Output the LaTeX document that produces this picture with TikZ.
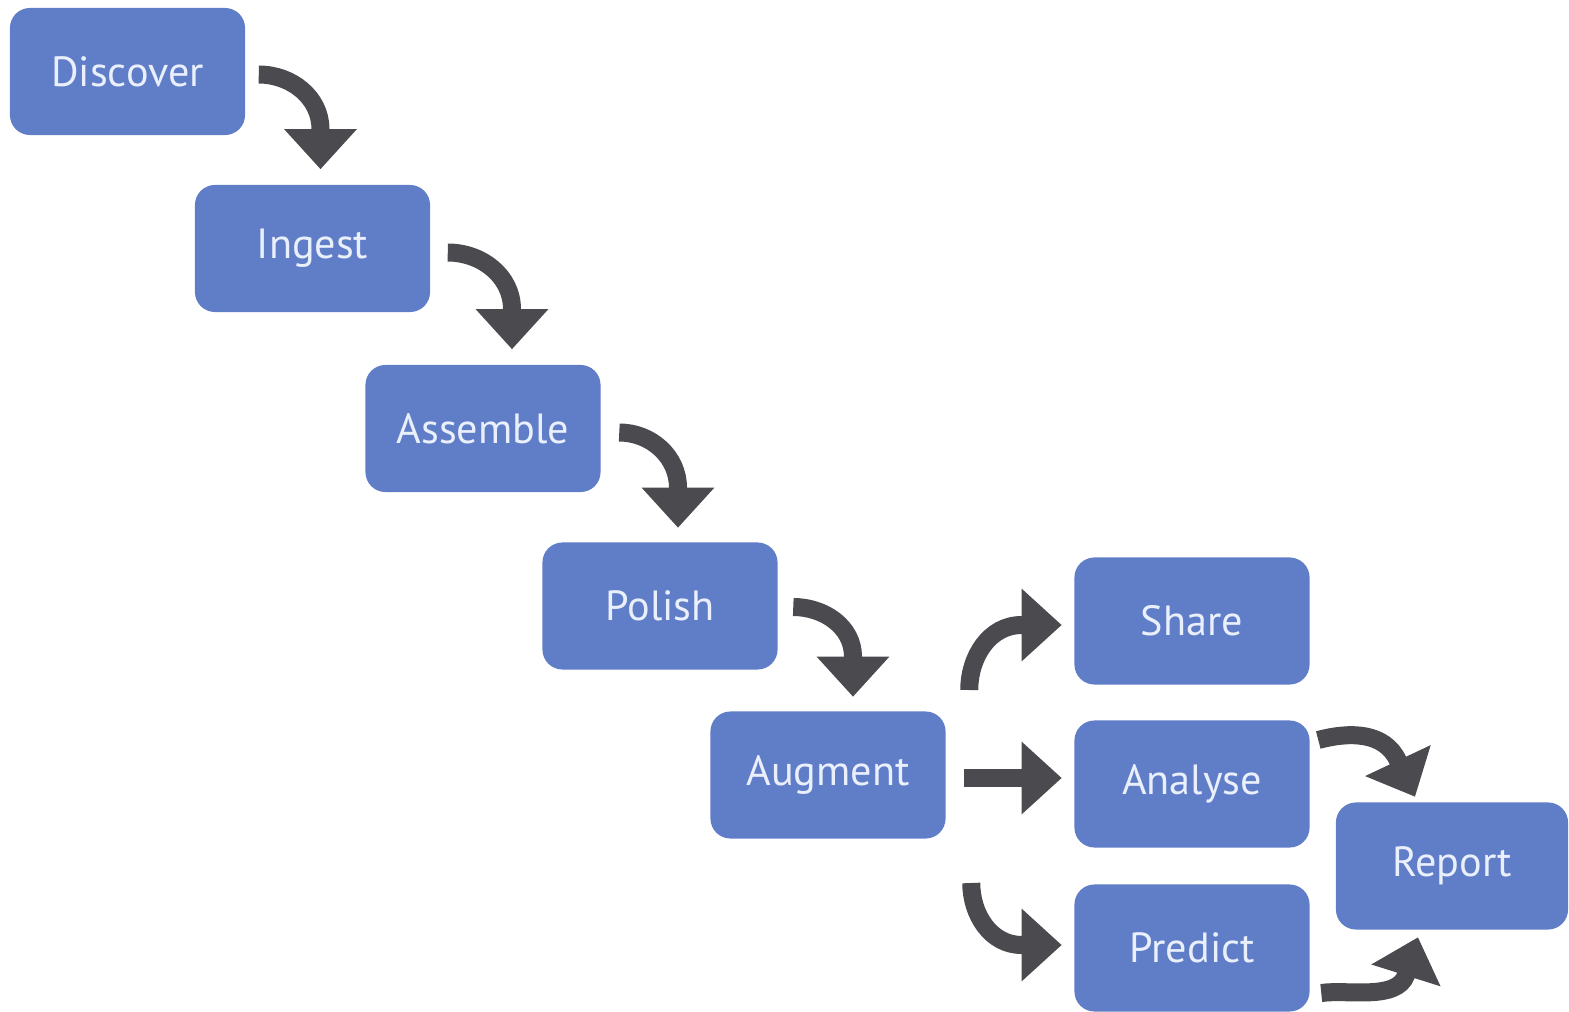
\documentclass[tikz,border=0pt]{standalone}
\usepackage{fontspec}
\setmainfont{PT Sans}
\usetikzlibrary{arrows.meta,calc}
\definecolor{boxblue}{RGB}{96,125,200}
\definecolor{boxtext}{RGB}{234,239,252}
\definecolor{arrowgray}{RGB}{74,74,79}
\begin{document}
\begin{tikzpicture}[x=0.01cm,y=0.01cm,
  stage/.style={rectangle, rounded corners=0.2cm, fill=boxblue, text=boxtext,
    minimum width=2.35cm, minimum height=1.27cm, inner sep=0pt,
    font=\fontsize{12}{15}\selectfont},
  flow/.style={draw=arrowgray, line width=0.18cm,
    -{Triangle[width=0.70cm,length=0.40cm]}}]
\useasboundingbox (0,0) rectangle (1569,-1012);
\node[stage] (discover) at (127.5,-71.5) {Discover};
\node[stage] (ingest) at (312.5,-248.5) {Ingest};
\node[stage] (assemble) at (483,-428.5) {Assemble};
\node[stage] (polish) at (660,-606) {Polish};
\node[stage] (augment) at (828,-775) {Augment};
\node[stage] (share) at (1192,-621) {Share};
\node[stage] (analyse) at (1192,-784) {Analyse};
\node[stage] (predict) at (1192,-948) {Predict};
\node[stage, minimum width=2.32cm] (report) at (1452,-866) {Report};

\draw[flow] ($(discover.east)+(13,-3)$) to[out=0,in=90] ($(ingest.north)+(8,55)$) -- ($(ingest.north)+(8,15)$);
\draw[flow] ($(ingest.east)+(17,-4)$) to[out=0,in=90] ($(assemble.north)+(29,55)$) -- ($(assemble.north)+(29,15)$);
\draw[flow] ($(assemble.east)+(18,-4)$) to[out=0,in=90] ($(polish.north)+(18,54)$) -- ($(polish.north)+(18,14)$);
\draw[flow] ($(polish.east)+(15,-1)$) to[out=0,in=90] ($(augment.north)+(25,54)$) -- ($(augment.north)+(25,14)$);
\draw[flow] ($(augment.east)+(23,85)$) to[out=90,in=180] ($(share.west)+(-52,-4)$) -- ($(share.west)+(-12,-4)$);
\draw[flow] ($(augment.east)+(18,-3)$) -- ($(analyse.west)+(-12,6)$);
\draw[flow] ($(augment.east)+(25,-108)$) to[out=-90,in=180] ($(predict.west)+(-52,3)$) -- ($(predict.west)+(-12,3)$);
\draw[flow] ($(analyse.east)+(8,44)$) to[out=15,in=115] ($(report.north)+(-54,41)$) -- ($(report.north)+(-37,5)$);
\draw[flow] ($(predict.east)+(11,-45)$) to[out=8,in=-110,looseness=0.8] ($(report.south)+(-46,-45)$) -- ($(report.south)+(-34,-7)$);
\end{tikzpicture}
\end{document}
